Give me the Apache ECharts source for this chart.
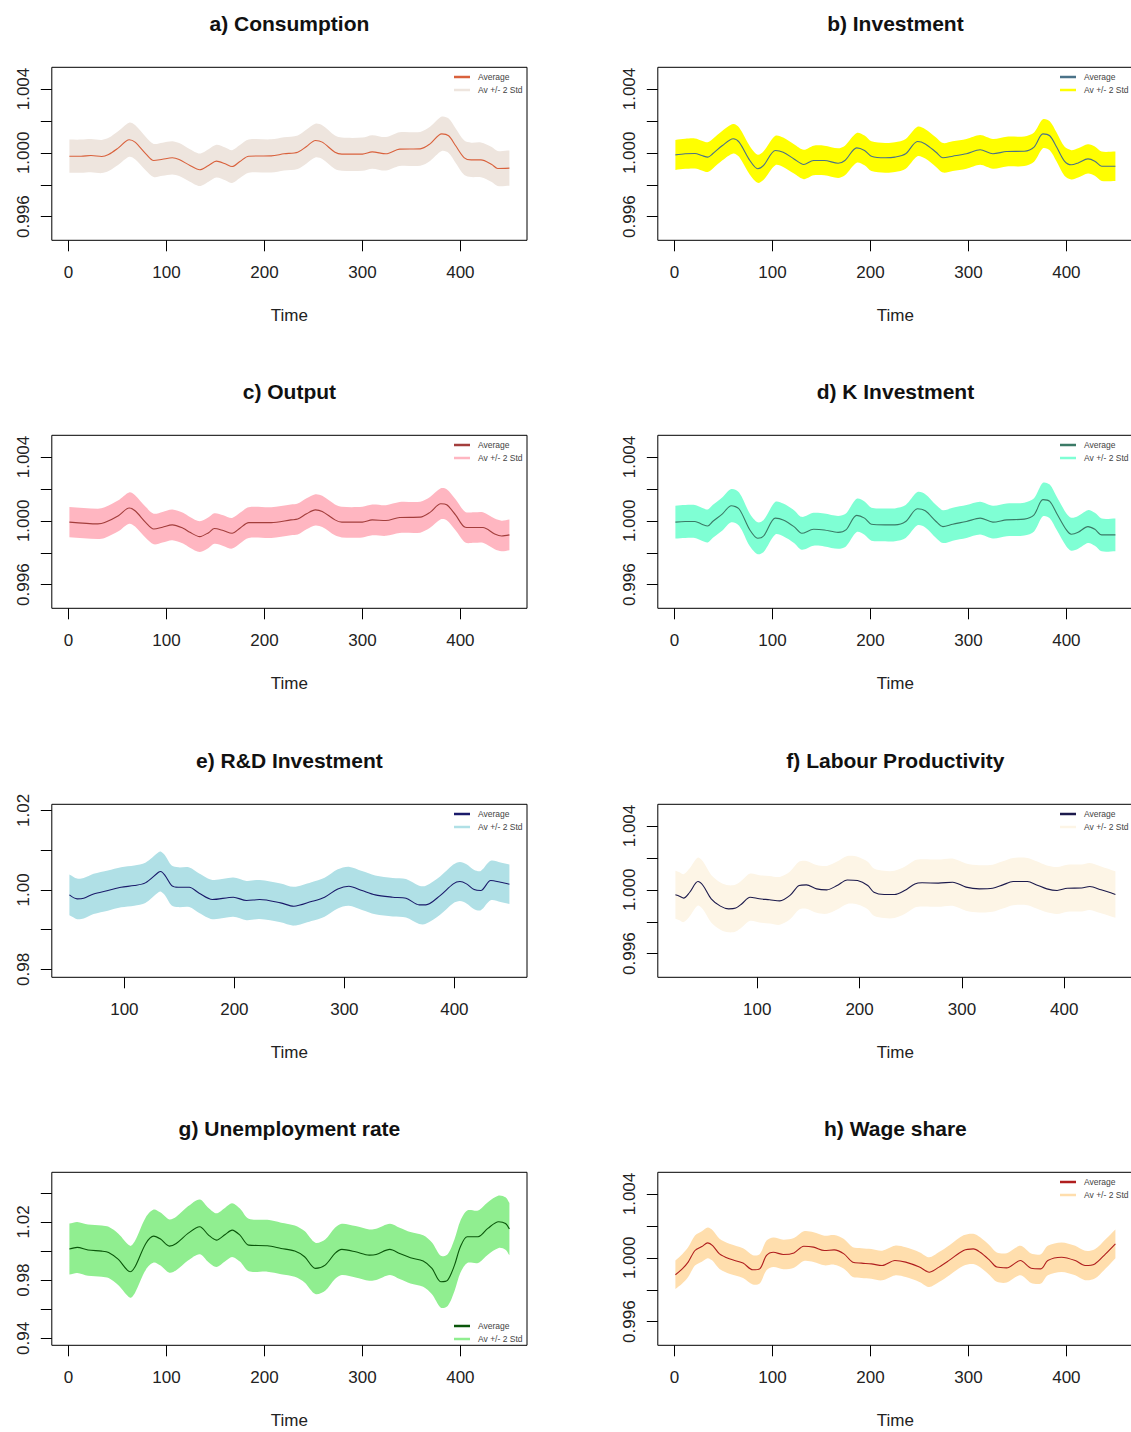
<!DOCTYPE html>
<html>
<head>
<meta charset="utf-8">
<script src="https://cdn.jsdelivr.net/npm/echarts@6/dist/echarts.min.js"></script>
<style>
html, body { margin: 0; padding: 0; background: #fff; width: 1131px; height: 1432px; overflow: hidden; }
.panel { position: absolute; width: 606px; height: 369px; }
</style>
</head>
<body>
<div id="p0" class="panel"></div>
<div id="p1" class="panel"></div>
<div id="p2" class="panel"></div>
<div id="p3" class="panel"></div>
<div id="p4" class="panel"></div>
<div id="p5" class="panel"></div>
<div id="p6" class="panel"></div>
<div id="p7" class="panel"></div>
<script>
// ---- Monte-Carlo averages (normalised) and 2-std half widths, by panel ----

// a) Consumption
const timeA = [1,13,23,34,41,51,62,68,79,87,96,106,113,124,134,143,151,160,167,175,184,207,220,234,243,252,259,272,279,300,310,324,338,359,369,381,388,395,404,411,421,432,438,450];
const avgA = [0.99979,0.99979,0.99983,0.99977,0.99990,1.00031,1.00082,1.00067,0.99994,0.99952,0.99960,0.99969,0.99958,0.99921,0.99894,0.99921,0.99948,0.99931,0.99914,0.99946,0.99979,0.99981,0.99994,1.00004,1.00040,1.00077,1.00067,1.00004,0.99992,0.99992,1.00006,0.99994,1.00023,1.00025,1.00056,1.00119,1.00107,1.00046,0.99969,0.99956,0.99956,0.99927,0.99902,0.99904];
const bandA = [0.00104,0.00104,0.00104,0.00104,0.00104,0.00106,0.00107,0.00107,0.00105,0.00104,0.00104,0.00104,0.00103,0.00102,0.00102,0.00102,0.00103,0.00103,0.00103,0.00103,0.00104,0.00104,0.00104,0.00105,0.00106,0.00106,0.00106,0.00105,0.00104,0.00104,0.00105,0.00105,0.00106,0.00106,0.00107,0.00108,0.00108,0.00108,0.00108,0.00108,0.00109,0.00110,0.00110,0.00110];

// b) Investment
const timeB = [1,11,21,28,34,39,49,60,66,77,85,91,103,111,122,132,142,153,167,174,186,194,201,215,225,236,248,256,267,274,284,298,312,325,339,357,367,376,383,390,398,405,412,422,429,436,450];
const avgB = [0.99987,0.99994,0.99996,0.99983,0.99973,0.99994,1.00046,1.00088,1.00067,0.99952,0.99900,0.99921,1.00015,1.00004,0.99962,0.99927,0.99952,0.99952,0.99935,0.99952,1.00031,1.00015,0.99979,0.99969,0.99973,0.99994,1.00071,1.00056,1.00004,0.99969,0.99979,0.99994,1.00019,0.99994,1.00008,1.00010,1.00036,1.00119,1.00107,1.00036,0.99948,0.99925,0.99937,0.99962,0.99948,0.99916,0.99916];
const bandB = [0.00094,0.00094,0.00094,0.00093,0.00093,0.00093,0.00093,0.00092,0.00092,0.00090,0.00088,0.00089,0.00092,0.00092,0.00092,0.00092,0.00093,0.00093,0.00093,0.00093,0.00093,0.00093,0.00093,0.00093,0.00093,0.00093,0.00092,0.00092,0.00092,0.00092,0.00093,0.00093,0.00093,0.00093,0.00093,0.00093,0.00092,0.00091,0.00091,0.00091,0.00091,0.00092,0.00092,0.00092,0.00092,0.00092,0.00092];

// c) Output
const timeC = [1,30,37,51,62,68,79,87,96,106,117,124,134,143,149,158,167,175,184,207,227,234,243,252,259,272,279,300,310,324,338,359,369,380,386,395,405,414,423,435,442,450];
const avgC = [0.99992,0.99981,0.99989,1.00032,1.00080,1.00063,0.99989,0.99949,0.99960,0.99975,0.99954,0.99928,0.99901,0.99926,0.99952,0.99939,0.99922,0.99954,0.99989,0.99989,1.00006,1.00011,1.00044,1.00069,1.00059,1.00006,0.99992,0.99992,1.00006,1.00002,1.00021,1.00023,1.00053,1.00107,1.00101,1.00038,0.99960,0.99958,0.99958,0.99918,0.99905,0.99912];
const bandC = [0.00095,0.00095,0.00096,0.00097,0.00098,0.00098,0.00097,0.00096,0.00096,0.00096,0.00096,0.00096,0.00096,0.00096,0.00096,0.00096,0.00096,0.00096,0.00096,0.00096,0.00096,0.00097,0.00097,0.00098,0.00098,0.00097,0.00096,0.00096,0.00096,0.00096,0.00097,0.00097,0.00097,0.00097,0.00097,0.00097,0.00096,0.00096,0.00096,0.00096,0.00096,0.00096];

// d) K Investment
const timeD = [1,11,21,28,34,39,49,58,66,77,85,91,103,111,122,130,142,153,167,175,186,194,201,215,225,236,248,256,267,274,284,298,312,325,339,357,367,376,383,390,400,405,412,422,429,436,450];
const avgD = [0.99992,0.99996,0.99996,0.99979,0.99968,0.99996,1.00044,1.00095,1.00074,0.99943,0.99891,0.99905,1.00017,1.00006,0.99964,0.99922,0.99947,0.99943,0.99928,0.99943,1.00034,1.00017,0.99979,0.99975,0.99975,0.99996,1.00076,1.00063,0.99996,0.99964,0.99979,0.99996,1.00017,0.99992,1.00006,1.00011,1.00038,1.00133,1.00122,1.00048,0.99943,0.99916,0.99928,0.99964,0.99947,0.99912,0.99912];
const bandD = [0.00103,0.00103,0.00103,0.00103,0.00103,0.00103,0.00104,0.00104,0.00104,0.00102,0.00100,0.00100,0.00102,0.00103,0.00103,0.00103,0.00103,0.00103,0.00103,0.00103,0.00104,0.00104,0.00103,0.00103,0.00103,0.00103,0.00104,0.00104,0.00103,0.00103,0.00103,0.00103,0.00103,0.00103,0.00103,0.00103,0.00104,0.00105,0.00105,0.00104,0.00103,0.00103,0.00103,0.00103,0.00103,0.00103,0.00103];

// e) R&D Investment
const timeE = [50,57,63,72,85,97,109,119,131,133,137,143,149,159,168,180,199,211,223,242,254,270,282,294,304,316,328,344,356,368,374,387,399,405,411,418,424,433,442,450];
const avgE = [0.99874,0.99774,0.99790,0.99899,0.99983,1.00067,1.00109,1.00176,1.00444,1.00461,1.00361,1.00109,1.00067,1.00067,0.99916,0.99757,0.99816,0.99732,0.99757,0.99673,0.99589,0.99706,0.99816,1.00025,1.00092,0.99983,0.99874,0.99816,0.99790,0.99623,0.99623,0.99857,1.00151,1.00210,1.00151,1.00008,0.99983,1.00235,1.00193,1.00143];
const bandE = [0.00515,0.00510,0.00508,0.00505,0.00505,0.00505,0.00505,0.00505,0.00503,0.00503,0.00503,0.00502,0.00500,0.00498,0.00496,0.00494,0.00494,0.00494,0.00492,0.00490,0.00488,0.00488,0.00490,0.00492,0.00492,0.00490,0.00488,0.00486,0.00484,0.00480,0.00478,0.00480,0.00485,0.00490,0.00492,0.00494,0.00495,0.00495,0.00495,0.00495];

// f) Labour Productivity
const timeF = [20,24,28,34,42,47,55,64,72,79,85,93,102,112,122,132,141,148,158,168,178,188,198,208,214,224,234,244,254,261,277,291,304,317,330,340,350,364,373,383,393,403,417,425,436,450];
const avgF = [0.99969,0.99960,0.99948,0.99985,1.00052,1.00027,0.99944,0.99898,0.99881,0.99886,0.99913,0.99954,0.99944,0.99938,0.99931,0.99965,1.00027,1.00031,1.00006,1.00000,1.00027,1.00062,1.00058,1.00027,0.99985,0.99971,0.99971,0.99996,1.00037,1.00044,1.00042,1.00048,1.00017,1.00006,1.00010,1.00031,1.00052,1.00052,1.00031,1.00006,0.99996,1.00010,1.00012,1.00021,1.00000,0.99971];
const bandF = [0.00150,0.00150,0.00150,0.00150,0.00150,0.00150,0.00149,0.00148,0.00147,0.00147,0.00147,0.00148,0.00148,0.00149,0.00150,0.00150,0.00150,0.00150,0.00150,0.00150,0.00150,0.00150,0.00150,0.00149,0.00148,0.00148,0.00148,0.00148,0.00148,0.00148,0.00148,0.00148,0.00148,0.00148,0.00148,0.00148,0.00148,0.00148,0.00148,0.00147,0.00147,0.00147,0.00147,0.00147,0.00147,0.00146];

// g) Unemployment rate
const timeG = [1,9,20,34,41,51,63,68,79,87,94,103,110,122,134,143,151,160,167,175,184,203,217,231,241,252,262,272,279,293,307,314,328,338,349,362,371,380,387,394,400,407,418,428,439,446,450];
const avgG = [1.00137,1.00252,1.00069,1.00000,0.99908,0.99428,0.98581,0.98925,1.00526,1.01030,1.00824,1.00343,1.00526,1.01213,1.01670,1.01098,1.00755,1.01144,1.01441,1.01098,1.00412,1.00366,1.00183,1.00000,0.99611,0.98810,0.99039,0.99840,1.00114,0.99954,0.99725,0.99771,1.00114,0.99840,0.99542,0.99314,0.98810,0.97895,0.98009,0.99039,1.00297,1.00984,1.00984,1.01556,1.02014,1.01899,1.01510];
const bandG = [0.0175,0.0175,0.0176,0.0176,0.0176,0.0177,0.0178,0.0178,0.0180,0.0182,0.0182,0.0183,0.0184,0.0186,0.0188,0.0186,0.0184,0.0184,0.0184,0.0182,0.0180,0.0178,0.0177,0.0176,0.0176,0.0176,0.0176,0.0176,0.0176,0.0176,0.0176,0.0176,0.0176,0.0176,0.0176,0.0177,0.0178,0.0178,0.0178,0.0178,0.0179,0.0180,0.0180,0.0180,0.0180,0.0180,0.0180];

// h) Wage share
const timeH = [1,8,14,21,28,34,39,46,56,70,80,87,94,101,111,122,132,142,153,163,173,182,191,201,212,225,236,250,260,270,281,295,305,312,322,329,339,353,364,374,381,395,409,419,429,440,450];
const avgH = [0.99894,0.99931,0.99973,1.00046,1.00071,1.00094,1.00077,1.00025,0.99994,0.99967,0.99925,0.99931,1.00015,1.00035,1.00021,1.00031,1.00073,1.00067,1.00046,1.00050,1.00025,0.99973,0.99967,0.99962,0.99952,0.99983,0.99973,0.99942,0.99910,0.99942,0.99987,1.00046,1.00056,1.00035,0.99983,0.99942,0.99937,0.99983,0.99935,0.99931,0.99983,1.00004,0.99983,0.99952,0.99962,1.00025,1.00088];
const bandH = [0.00090,0.00092,0.00093,0.00094,0.00095,0.00096,0.00096,0.00095,0.00094,0.00093,0.00092,0.00092,0.00093,0.00093,0.00093,0.00093,0.00093,0.00093,0.00093,0.00093,0.00093,0.00093,0.00093,0.00093,0.00093,0.00093,0.00093,0.00093,0.00093,0.00094,0.00094,0.00095,0.00095,0.00094,0.00093,0.00092,0.00092,0.00092,0.00092,0.00092,0.00092,0.00092,0.00092,0.00092,0.00092,0.00092,0.00090];

// Tick label sets
const ticksTime = [0, 100, 200, 300, 400];
const ticksTimeLate = [100, 200, 300, 400];
const ticksNarrow = [0.996, 0.998, 1.000, 1.002, 1.004];
const labelsNarrow = [0.996, 1.000, 1.004];
const ticksRD = [0.98, 0.99, 1.00, 1.01, 1.02];
const labelsRD = [0.98, 1.00, 1.02];
const ticksUnemp = [0.94, 0.96, 0.98, 1.00, 1.02, 1.04];
const labelsUnemp = [0.94, 0.98, 1.02];

const FONT = '"Liberation Sans", Arial, Helvetica, sans-serif';
const NARROW = { min: 0.99452, max: 1.00536, ticks: ticksNarrow, labels: labelsNarrow, dec: 3 };

const panels = [
  { title: 'a) Consumption', time: timeA, avg: avgA, band: bandA, line: '#D9613C', fill: '#EEE5DE', x: [-16.96, 467.96], xt: ticksTime, y: NARROW },
  { title: 'b) Investment', time: timeB, avg: avgB, band: bandB, line: '#4A7288', fill: '#FFFF00', x: [-16.96, 467.96], xt: ticksTime, y: NARROW },
  { title: 'c) Output', time: timeC, avg: avgC, band: bandC, line: '#A33E3C', fill: '#FFB6C1', x: [-16.96, 467.96], xt: ticksTime, y: NARROW },
  { title: 'd) K Investment', time: timeD, avg: avgD, band: bandD, line: '#3B7A66', fill: '#7FFFD4', x: [-16.96, 467.96], xt: ticksTime, y: NARROW },
  { title: 'e) R&D Investment', time: timeE, avg: avgE, band: bandE, line: '#1A1A6A', fill: '#B0E0E6', x: [34, 466], xt: ticksTimeLate,
    y: { min: 0.97801, max: 1.02153, ticks: ticksRD, labels: labelsRD, dec: 2 } },
  { title: 'f) Labour Productivity', time: timeF, avg: avgF, band: bandF, line: '#1C1A4C', fill: '#FDF5E6', x: [2.8, 467.2], xt: ticksTimeLate, y: NARROW },
  { title: 'g) Unemployment rate', time: timeG, avg: avgG, band: bandG, line: '#0A560A', fill: '#90EE90', x: [-16.96, 467.96], xt: ticksTime,
    y: { min: 0.9353, max: 1.0541, ticks: ticksUnemp, labels: labelsUnemp, dec: 2 }, legendBottom: true },
  { title: 'h) Wage share', time: timeH, avg: avgH, band: bandH, line: '#B01E1E', fill: '#FFDEAD', x: [-16.96, 467.96], xt: ticksTime, y: NARROW }
];

// Plot frame inside each panel (px)
const BOX = { left: 51.8, top: 67.3, width: 475.2, height: 173 };
const COL_STEP = 605.5, ROW_STEP = 368.3;
const SMOOTH = 0.3;

// Filled ribbon between avg - 2std and avg + 2std, drawn once from all rows.
// End points are doubled so the smoothed outline keeps square, vertical ends.
function renderRibbon(fill) {
  return function (params, api) {
    if (params.dataIndexInside !== 0) return null;
    const n = params.dataInsideLength;
    const upper = [], lower = [];
    for (let k = 0; k < n; k++) {
      upper.push(api.coord([api.value(0, k), api.value(2, k)]));
      lower.push(api.coord([api.value(0, k), api.value(1, k)]));
    }
    lower.reverse();
    const pts = [upper[0]].concat(upper, [upper[n - 1], lower[0]], lower, [lower[n - 1]]);
    return {
      type: 'polygon',
      shape: { points: pts, smooth: SMOOTH },
      style: { fill: fill, stroke: null },
      silent: true
    };
  };
}

panels.forEach((p, i) => {
  const el = document.getElementById('p' + i);
  el.style.left = ((i % 2) * COL_STEP) + 'px';
  el.style.top = (Math.floor(i / 2) * ROW_STEP) + 'px';
  const chart = echarts.init(el, null, { renderer: 'svg' });

  const n = Math.min(p.time.length, p.avg.length, p.band.length);
  const ribbon = [], mean = [];
  for (let k = 0; k < n; k++) {
    ribbon.push([p.time[k], p.avg[k] - p.band[k], p.avg[k] + p.band[k]]);
    mean.push([p.time[k], p.avg[k]]);
  }

  chart.setOption({
    animation: false,
    textStyle: { fontFamily: FONT },
    title: {
      text: p.title,
      left: BOX.left + BOX.width / 2,
      top: 12.5,
      padding: 0,
      textAlign: 'center',
      textStyle: { fontFamily: FONT, fontSize: 21, fontWeight: 'bold', color: '#111' }
    },
    legend: {
      orient: 'vertical',
      left: 454,
      top: p.legendBottom ? 216.5 : 72.5,
      itemWidth: 16,
      itemHeight: 2.5,
      itemGap: 4,
      padding: 0,
      textStyle: { fontFamily: FONT, fontSize: 8.5, color: '#444', padding: [0, 0, 0, 3] },
      data: [
        { name: 'Average', icon: 'rect', itemStyle: { color: p.line, borderWidth: 0 } },
        { name: 'Av +/- 2 Std', icon: 'rect', itemStyle: { color: p.fill, borderWidth: 0 } }
      ]
    },
    grid: {
      left: BOX.left, top: BOX.top, width: BOX.width, height: BOX.height,
      show: true, borderColor: '#000', borderWidth: 1, backgroundColor: 'transparent'
    },
    xAxis: {
      type: 'value', min: p.x[0], max: p.x[1],
      axisLine: { show: false, onZero: false },
      splitLine: { show: false },
      axisTick: { show: true, length: 11, lineStyle: { color: '#000', width: 1 }, customValues: p.xt },
      axisLabel: { customValues: p.xt, fontSize: 17, color: '#222', margin: 24, fontFamily: FONT },
      name: 'Time', nameLocation: 'middle', nameGap: 67,
      nameTextStyle: { fontSize: 17, color: '#222', fontFamily: FONT }
    },
    yAxis: {
      type: 'value', min: p.y.min, max: p.y.max,
      axisLine: { show: false, onZero: false },
      splitLine: { show: false },
      axisTick: { show: true, length: 11, lineStyle: { color: '#000', width: 1 }, customValues: p.y.ticks },
      axisLabel: {
        customValues: p.y.labels, rotate: 90, fontSize: 17, color: '#222', margin: 20, fontFamily: FONT,
        formatter: v => Number(v).toFixed(p.y.dec)
      }
    },
    series: [
      {
        name: 'Av +/- 2 Std', type: 'custom', coordinateSystem: 'cartesian2d',
        data: ribbon, encode: { x: 0, y: [1, 2] },
        renderItem: renderRibbon(p.fill),
        color: p.fill, silent: true, z: 1
      },
      {
        name: 'Average', type: 'line', data: mean, smooth: SMOOTH,
        symbol: 'none', color: p.line, lineStyle: { color: p.line, width: 1.1 }, z: 3
      }
    ]
  });
});
</script>
</body>
</html>
